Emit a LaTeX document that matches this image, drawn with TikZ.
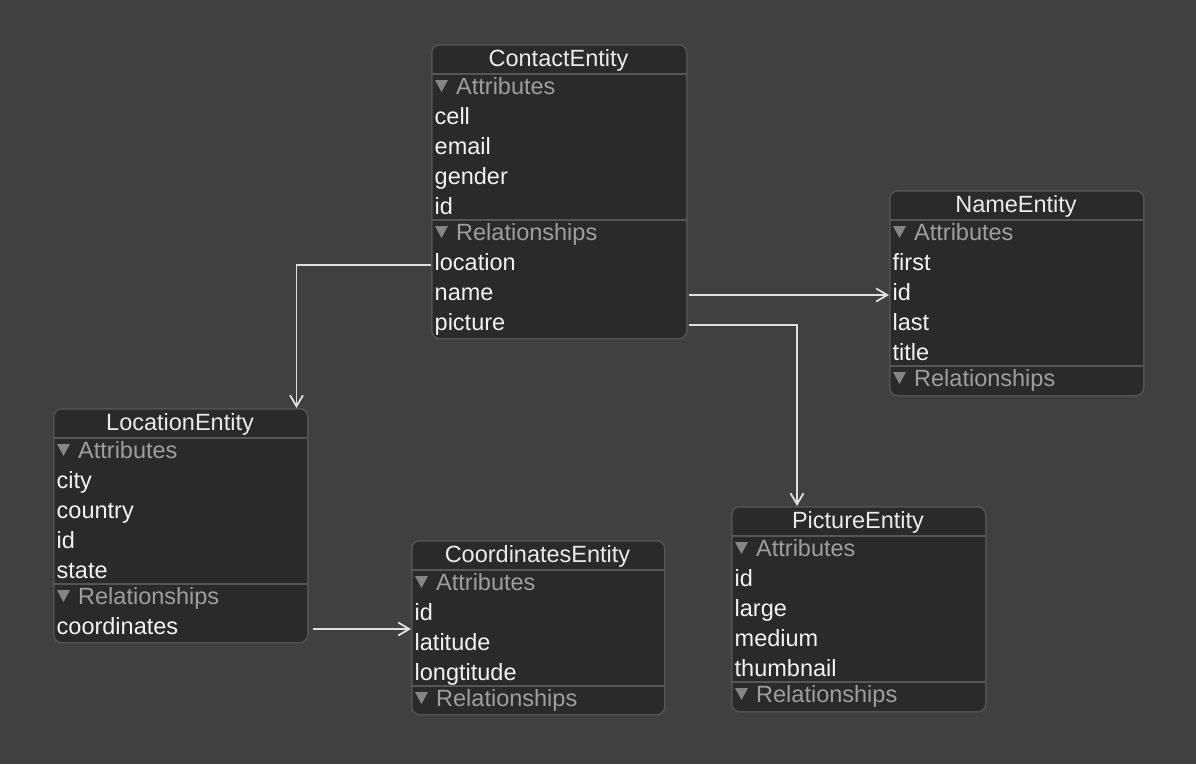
\documentclass[tikz,border=0pt]{standalone}
\usepackage{fontspec}
\setmainfont{Liberation Sans}
\usetikzlibrary{arrows.meta,calc}
\definecolor{bg}{HTML}{404040}
\definecolor{boxfill}{HTML}{2A2A2A}
\definecolor{boxline}{HTML}{525252}
\definecolor{sepc}{HTML}{565656}
\definecolor{headtxt}{HTML}{EAEAEA}
\definecolor{rowtxt}{HTML}{F2F2F2}
\definecolor{sectxt}{HTML}{9E9E9E}
\definecolor{tric}{HTML}{858585}
\definecolor{linec}{HTML}{E0E0E0}
\newcommand\efont{\fontsize{23.5}{28}\selectfont}
\begin{document}
\begin{tikzpicture}[x=1pt,y=-1pt,
  entity/.style={draw=boxline, line width=1.5pt, fill=boxfill, rounded corners=8pt, anchor=north west, inner sep=0pt, minimum width=254pt},
  etitle/.style={anchor=base, inner sep=0pt, text=headtxt, font=\efont},
  erow/.style={anchor=west, inner sep=0pt, text height=17pt, text depth=7pt, text=rowtxt, font=\efont},
  esection/.style={erow, text=sectxt},
  sepline/.style={draw=sepc, line width=2pt},
  conn/.style={draw=linec, line width=1.8pt, -{Straight Barb[length=11pt,width=13pt,line width=1.8pt]}},
  tri/.pic={\fill[tric] (0,0) -- (13,0) -- (6.5,12) -- cycle;}
]
\fill[bg] (0,0) rectangle (1196,764);
\useasboundingbox (0,0) rectangle (1196,764);

% ---------------- ContactEntity ----------------
\node[entity, minimum width=255pt, minimum height=294pt] (contact) at (431,44) {};
\node[etitle] (contact-title) at (558.5,66.5) {ContactEntity};
\draw[sepline] (431,74) -- (686,74);
\pic at (435,80) {tri};
\node[esection] (contact-attr) at (456,89) {Attributes};
\node[erow] (c-cell) at (434.5,119) {cell};
\node[erow] (c-email) at (434.5,149) {email};
\node[erow] (c-gender) at (434.5,179) {gender};
\node[erow] (c-id) at (434.5,209) {id};
\draw[sepline] (431,220) -- (686,220);
\pic at (435,226) {tri};
\node[esection] (contact-rel) at (456,235) {Relationships};
\node[erow] (c-location) at (434.5,265) {location};
\node[erow] (c-name) at (434.5,295) {name};
\node[erow] (c-picture) at (434.5,325) {picture};

% ---------------- NameEntity ----------------
\node[entity, minimum height=205pt] (name) at (889,190) {};
\node[etitle] (name-title) at (1016,212.5) {NameEntity};
\draw[sepline] (889,220) -- (1143,220);
\pic at (893,226) {tri};
\node[esection] (name-attr) at (914,235) {Attributes};
\node[erow] (n-first) at (892.5,265) {first};
\node[erow] (n-id) at (892.5,295) {id};
\node[erow] (n-last) at (892.5,325) {last};
\node[erow] (n-title) at (892.5,355) {title};
\draw[sepline] (889,366) -- (1143,366);
\pic at (893,372) {tri};
\node[esection] (name-rel) at (914,381) {Relationships};

% ---------------- LocationEntity ----------------
\node[entity, minimum height=234pt] (location) at (53,408) {};
\node[etitle] (location-title) at (180,430.5) {LocationEntity};
\draw[sepline] (53,438) -- (307,438);
\pic at (57,444) {tri};
\node[esection] (location-attr) at (78,453) {Attributes};
\node[erow] (l-city) at (56.5,483) {city};
\node[erow] (l-country) at (56.5,513) {country};
\node[erow] (l-id) at (56.5,543) {id};
\node[erow] (l-state) at (56.5,573) {state};
\draw[sepline] (53,584) -- (307,584);
\pic at (57,590) {tri};
\node[esection] (location-rel) at (78,599) {Relationships};
\node[erow] (l-coordinates) at (56.5,629) {coordinates};

% ---------------- CoordinatesEntity ----------------
\node[entity, minimum width=253pt, minimum height=174pt] (coordinates) at (411,540) {};
\node[etitle] (coordinates-title) at (537.5,562.5) {CoordinatesEntity};
\draw[sepline] (411,570) -- (664,570);
\pic at (415,576) {tri};
\node[esection] (coordinates-attr) at (436,585) {Attributes};
\node[erow] (k-id) at (414.5,615) {id};
\node[erow] (k-latitude) at (414.5,645) {latitude};
\node[erow] (k-longtitude) at (414.5,675) {longtitude};
\draw[sepline] (411,686) -- (664,686);
\pic at (415,692) {tri};
\node[esection] (coordinates-rel) at (436,701) {Relationships};

% ---------------- PictureEntity ----------------
\node[entity, minimum height=205pt] (picture) at (731,506) {};
\node[etitle] (picture-title) at (858,528.5) {PictureEntity};
\draw[sepline] (731,536) -- (985,536);
\pic at (735,542) {tri};
\node[esection] (picture-attr) at (756,551) {Attributes};
\node[erow] (p-id) at (734.5,581) {id};
\node[erow] (p-large) at (734.5,611) {large};
\node[erow] (p-medium) at (734.5,641) {medium};
\node[erow] (p-thumbnail) at (734.5,671) {thumbnail};
\draw[sepline] (731,682) -- (985,682);
\pic at (735,688) {tri};
\node[esection] (picture-rel) at (756,697) {Relationships};

% ---------------- connectors ----------------
\draw[conn] (contact.west |- c-location) -| ([xshift=-12pt]location.north east);
\draw[conn] ($(contact.east |- c-name)+(1,0)$) -- (name.west |- c-name);
\draw[conn] ($(contact.east |- c-picture)+(1,0)$) -| ([xshift=66pt]picture.north west);
\draw[conn] ($(location.east |- l-coordinates)+(4,0)$) -- (coordinates.west |- l-coordinates);
\end{tikzpicture}
\end{document}
